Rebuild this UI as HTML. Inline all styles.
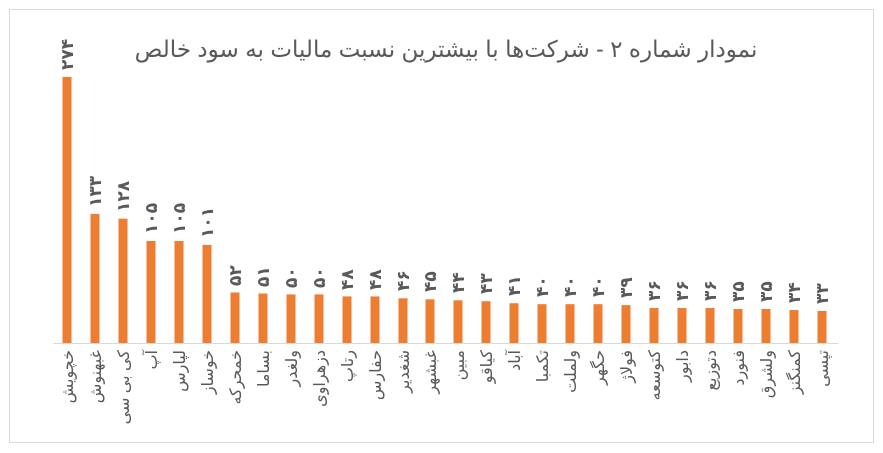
<!DOCTYPE html>
<html><head><meta charset="utf-8"><style>
html,body{margin:0;padding:0;background:#fff;}
svg{display:block;font-family:"Liberation Sans","DejaVu Sans",sans-serif;}
.v{font-size:17px;font-weight:bold;fill:#595959;}
.n{font-size:16px;fill:#595959;text-anchor:end;}
.b{fill:#ED7D31;}
</style></head><body>
<svg width="883" height="453" viewBox="0 0 883 453" xmlns="http://www.w3.org/2000/svg">
<rect x="0" y="0" width="883" height="453" fill="#fff"/>
<rect x="9.5" y="9.5" width="864" height="433" fill="none" stroke="#d9d9d9" stroke-width="1"/>
<text x="446" y="57" font-size="23" fill="#595959" text-anchor="middle" direction="rtl">نمودار شماره ۲ - شرکت‌ها با بیشترین نسبت مالیات به سود خالص</text>
<line x1="53" y1="343.5" x2="838" y2="343.5" stroke="#d9d9d9" stroke-width="1"/>

<g transform="translate(67,0)"><rect class="b" x="-4.5" y="76.9" width="9" height="266.1"/><text class="v" transform="translate(6,70) rotate(-90)">۲۷۴</text><text class="n" transform="translate(6,350) rotate(-90)">خچویش</text></g>
<g transform="translate(95,0)"><rect class="b" x="-4.5" y="213.9" width="9" height="129.1"/><text class="v" transform="translate(6,207) rotate(-90)">۱۳۳</text><text class="n" transform="translate(6,350) rotate(-90)">غبهنوش</text></g>
<g transform="translate(123,0)"><rect class="b" x="-4.5" y="218.7" width="9" height="124.3"/><text class="v" transform="translate(6,212) rotate(-90)">۱۲۸</text><text class="n" transform="translate(6,350) rotate(-90)">کی بی سی</text></g>
<g transform="translate(151,0)"><rect class="b" x="-4.5" y="241" width="9" height="102"/><text class="v" transform="translate(6,234) rotate(-90)">۱۰۵</text><text class="n" transform="translate(6,350) rotate(-90)">آپ</text></g>
<g transform="translate(179,0)"><rect class="b" x="-4.5" y="241" width="9" height="102"/><text class="v" transform="translate(6,234) rotate(-90)">۱۰۵</text><text class="n" transform="translate(6,350) rotate(-90)">لپارس</text></g>
<g transform="translate(207,0)"><rect class="b" x="-4.5" y="244.9" width="9" height="98.1"/><text class="v" transform="translate(6,238) rotate(-90)">۱۰۱</text><text class="n" transform="translate(6,350) rotate(-90)">خوساز</text></g>
<g transform="translate(235,0)"><rect class="b" x="-4.5" y="292.5" width="9" height="50.5"/><text class="v" transform="translate(6,286) rotate(-90)">۵۲</text><text class="n" transform="translate(6,350) rotate(-90)">خمحرکه</text></g>
<g transform="translate(263,0)"><rect class="b" x="-4.5" y="293.5" width="9" height="49.5"/><text class="v" transform="translate(6,287) rotate(-90)">۵۱</text><text class="n" transform="translate(6,350) rotate(-90)">بساما</text></g>
<g transform="translate(291,0)"><rect class="b" x="-4.5" y="294.4" width="9" height="48.6"/><text class="v" transform="translate(6,288) rotate(-90)">۵۰</text><text class="n" transform="translate(6,350) rotate(-90)">ولغدر</text></g>
<g transform="translate(319,0)"><rect class="b" x="-4.5" y="294.4" width="9" height="48.6"/><text class="v" transform="translate(6,288) rotate(-90)">۵۰</text><text class="n" transform="translate(6,350) rotate(-90)">دزهراوی</text></g>
<g transform="translate(347,0)"><rect class="b" x="-4.5" y="296.4" width="9" height="46.6"/><text class="v" transform="translate(6,290) rotate(-90)">۴۸</text><text class="n" transform="translate(6,350) rotate(-90)">رتاپ</text></g>
<g transform="translate(375,0)"><rect class="b" x="-4.5" y="296.4" width="9" height="46.6"/><text class="v" transform="translate(6,290) rotate(-90)">۴۸</text><text class="n" transform="translate(6,350) rotate(-90)">حفارس</text></g>
<g transform="translate(403,0)"><rect class="b" x="-4.5" y="298.3" width="9" height="44.7"/><text class="v" transform="translate(6,291) rotate(-90)">۴۶</text><text class="n" transform="translate(6,350) rotate(-90)">شغدیر</text></g>
<g transform="translate(430,0)"><rect class="b" x="-4.5" y="299.3" width="9" height="43.7"/><text class="v" transform="translate(6,292) rotate(-90)">۴۵</text><text class="n" transform="translate(6,350) rotate(-90)">غبشهر</text></g>
<g transform="translate(458,0)"><rect class="b" x="-4.5" y="300.3" width="9" height="42.7"/><text class="v" transform="translate(6,293) rotate(-90)">۴۴</text><text class="n" transform="translate(6,350) rotate(-90)">مبین</text></g>
<g transform="translate(486,0)"><rect class="b" x="-4.5" y="301.2" width="9" height="41.8"/><text class="v" transform="translate(6,294) rotate(-90)">۴۳</text><text class="n" transform="translate(6,350) rotate(-90)">کیاقو</text></g>
<g transform="translate(514,0)"><rect class="b" x="-4.5" y="303.2" width="9" height="39.8"/><text class="v" transform="translate(6,296) rotate(-90)">۴۱</text><text class="n" transform="translate(6,350) rotate(-90)">آباد</text></g>
<g transform="translate(542,0)"><rect class="b" x="-4.5" y="304.2" width="9" height="38.8"/><text class="v" transform="translate(6,297) rotate(-90)">۴۰</text><text class="n" transform="translate(6,350) rotate(-90)">تکمبا</text></g>
<g transform="translate(570,0)"><rect class="b" x="-4.5" y="304.2" width="9" height="38.8"/><text class="v" transform="translate(6,297) rotate(-90)">۴۰</text><text class="n" transform="translate(6,350) rotate(-90)">ولملت</text></g>
<g transform="translate(598,0)"><rect class="b" x="-4.5" y="304.2" width="9" height="38.8"/><text class="v" transform="translate(6,297) rotate(-90)">۴۰</text><text class="n" transform="translate(6,350) rotate(-90)">حگهر</text></g>
<g transform="translate(626,0)"><rect class="b" x="-4.5" y="305.1" width="9" height="37.9"/><text class="v" transform="translate(6,298) rotate(-90)">۳۹</text><text class="n" transform="translate(6,350) rotate(-90)">فولاژ</text></g>
<g transform="translate(654,0)"><rect class="b" x="-4.5" y="308" width="9" height="35"/><text class="v" transform="translate(6,301) rotate(-90)">۳۶</text><text class="n" transform="translate(6,350) rotate(-90)">کتوسعه</text></g>
<g transform="translate(682,0)"><rect class="b" x="-4.5" y="308" width="9" height="35"/><text class="v" transform="translate(6,301) rotate(-90)">۳۶</text><text class="n" transform="translate(6,350) rotate(-90)">دابور</text></g>
<g transform="translate(710,0)"><rect class="b" x="-4.5" y="308" width="9" height="35"/><text class="v" transform="translate(6,301) rotate(-90)">۳۶</text><text class="n" transform="translate(6,350) rotate(-90)">دتوزیع</text></g>
<g transform="translate(738,0)"><rect class="b" x="-4.5" y="309" width="9" height="34"/><text class="v" transform="translate(6,302) rotate(-90)">۳۵</text><text class="n" transform="translate(6,350) rotate(-90)">فنورد</text></g>
<g transform="translate(766,0)"><rect class="b" x="-4.5" y="309" width="9" height="34"/><text class="v" transform="translate(6,302) rotate(-90)">۳۵</text><text class="n" transform="translate(6,350) rotate(-90)">ولشرق</text></g>
<g transform="translate(794,0)"><rect class="b" x="-4.5" y="310" width="9" height="33"/><text class="v" transform="translate(6,303) rotate(-90)">۳۴</text><text class="n" transform="translate(6,350) rotate(-90)">کمنگنز</text></g>
<g transform="translate(822,0)"><rect class="b" x="-4.5" y="311" width="9" height="32"/><text class="v" transform="translate(6,304) rotate(-90)">۳۳</text><text class="n" transform="translate(6,350) rotate(-90)">تپسی</text></g>
</svg>
</body></html>
